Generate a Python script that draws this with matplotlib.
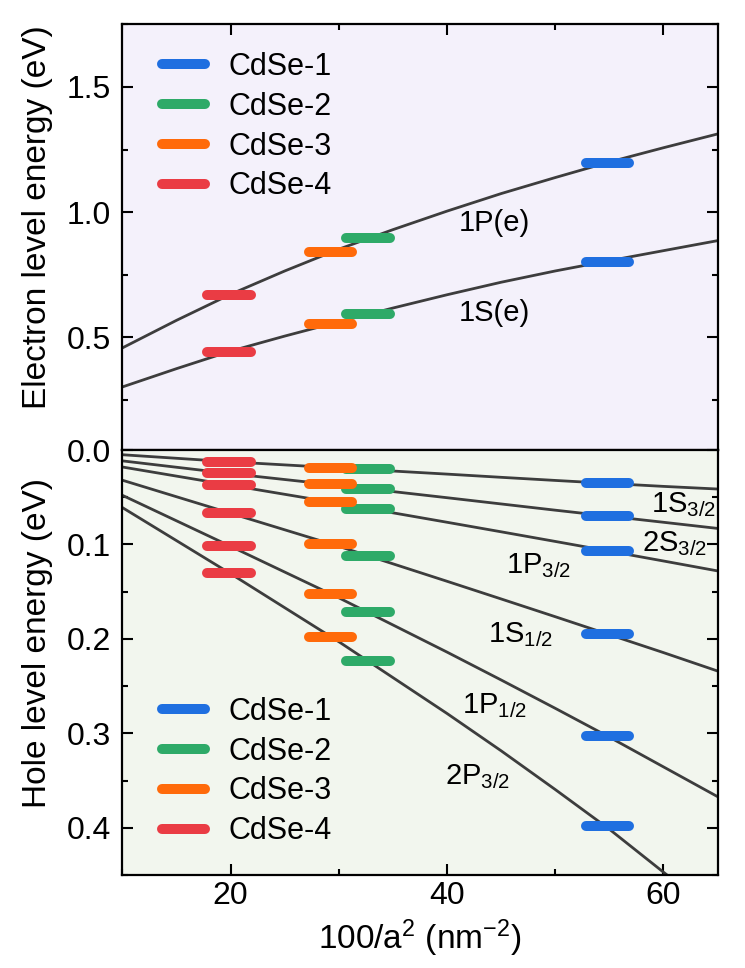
import numpy as np
import matplotlib
matplotlib.use('Agg')
import matplotlib.pyplot as plt
from matplotlib.ticker import MultipleLocator, FormatStrFormatter
from matplotlib.lines import Line2D

plt.rcParams['font.family'] = ['Liberation Sans', 'DejaVu Sans']
plt.rcParams['mathtext.default'] = 'regular'

# quantum dots: x position is 100/a^2 (nm^-2)
dots = ['CdSe-1', 'CdSe-2', 'CdSe-3', 'CdSe-4']
dot_x = [54.8, 32.7, 29.25, 19.85]
dot_colors = ['#1f6fe0', '#2eaa68', '#ff6a0a', '#ea3c44']

# electron levels (eV) for each dot
e_1P = [1.197, 0.898, 0.840, 0.669]
e_1S = [0.802, 0.593, 0.553, 0.442]

# hole levels (eV) per dot, order: 1S3/2, 2S3/2, 1P3/2, 1S1/2, 1P1/2, 2P3/2
h_levels = {
    'CdSe-1': [0.0353, 0.0699, 0.107, 0.1952, 0.303, 0.398],
    'CdSe-2': [0.0204, 0.0413, 0.0625, 0.112, 0.172, 0.2232],
    'CdSe-3': [0.0187, 0.0363, 0.0551, 0.0999, 0.1525, 0.1978],
    'CdSe-4': [0.0124, 0.0247, 0.0371, 0.0664, 0.1014, 0.130],
}

# calculated curves
xe = [10, 15, 20, 25, 30, 35, 40, 45, 50, 55, 60, 65]
curve_1P = [0.458, 0.568, 0.672, 0.765, 0.852, 0.930, 1.004, 1.074, 1.138, 1.200, 1.257, 1.312]
curve_1S = [0.302, 0.375, 0.445, 0.505, 0.562, 0.617, 0.670, 0.720, 0.765, 0.806, 0.846, 0.886]

xh = [10, 20, 30, 40, 45, 50, 55, 60, 65]
curve_1S32 = [0.005, 0.0125, 0.019, 0.0255, 0.0289, 0.0322, 0.0354, 0.0385, 0.0413]
curve_2S32 = [0.0115, 0.025, 0.0375, 0.0505, 0.0571, 0.0637, 0.0701, 0.0765, 0.083]
curve_1P32 = [0.018, 0.0373, 0.0565, 0.0765, 0.0866, 0.0968, 0.1071, 0.1175, 0.128]
curve_1S12 = [0.032, 0.067, 0.102, 0.139, 0.1577, 0.1765, 0.1955, 0.2145, 0.234]
curve_1P12 = [0.048, 0.102, 0.1565, 0.214, 0.2435, 0.2735, 0.304, 0.3355, 0.367]
curve_2P32 = [0.061, 0.131, 0.203, 0.279, 0.3185, 0.3595, 0.4015, 0.447, 0.492]

line_color = '#3d3d3d'
bar_half = 2.0
bar_lw = 7.2

fig = plt.figure(figsize=(7.45, 9.68), dpi=100)
ax_e = fig.add_axes([0.1644, 0.5351, 0.7987, 0.4398])
ax_h = fig.add_axes([0.1644, 0.0961, 0.7987, 0.4390])
ax_e.set_facecolor('#f4f1fb')
ax_h.set_facecolor('#f2f6ee')

# electron panel
for yy in (curve_1P, curve_1S):
    ax_e.plot(xe, yy, color=line_color, lw=2.0, zorder=2)
for i, name in enumerate(dots):
    for lev in (e_1P[i], e_1S[i]):
        ax_e.plot([dot_x[i] - bar_half, dot_x[i] + bar_half], [lev, lev],
                  color=dot_colors[i], lw=bar_lw, solid_capstyle='round', zorder=3)
ax_e.text(44.4, 0.956, '1P(e)', fontsize=21, ha='center', va='center')
ax_e.text(44.4, 0.596, '1S(e)', fontsize=21, ha='center', va='center')
ax_e.set_xlim(10, 65)
ax_e.set_ylim(0.05, 1.75)
ax_e.yaxis.set_major_locator(MultipleLocator(0.5))
ax_e.yaxis.set_minor_locator(MultipleLocator(0.25))

# hole panel
for yy in (curve_1S32, curve_2S32, curve_1P32, curve_1S12, curve_1P12, curve_2P32):
    ax_h.plot(xh, yy, color=line_color, lw=2.0, zorder=2)
for i, name in enumerate(dots):
    for lev in h_levels[name]:
        ax_h.plot([dot_x[i] - bar_half, dot_x[i] + bar_half], [lev, lev],
                  color=dot_colors[i], lw=bar_lw, solid_capstyle='round', zorder=3)
hole_labels = [('1S$_{3/2}$', 61.9, 0.0583), ('2S$_{3/2}$', 61.0, 0.0989),
               ('1P$_{3/2}$', 48.5, 0.122), ('1S$_{1/2}$', 46.8, 0.195),
               ('1P$_{1/2}$', 44.4, 0.271), ('2P$_{3/2}$', 42.8, 0.346)]
for txt, tx, ty in hole_labels:
    ax_h.text(tx, ty, txt, fontsize=21, ha='center', va='center')
ax_h.set_xlim(10, 65)
ax_h.set_ylim(0.45, 0.0)
ax_h.yaxis.set_major_locator(MultipleLocator(0.1))
ax_h.yaxis.set_minor_locator(MultipleLocator(0.05))
ax_h.yaxis.set_major_formatter(FormatStrFormatter('%.1f'))

for ax in (ax_e, ax_h):
    ax.xaxis.set_major_locator(MultipleLocator(20))
    ax.xaxis.set_minor_locator(MultipleLocator(10))
    ax.tick_params(which='both', direction='in', width=1.5, labelsize=23,
                   left=True, right=True)
    ax.tick_params(axis='y', which='both', pad=8)
    ax.tick_params(axis='x', which='both', pad=4)
    ax.tick_params(which='major', length=8)
    ax.tick_params(which='minor', length=4.5)
    for sp in ax.spines.values():
        sp.set_linewidth(1.6)
ax_e.tick_params(which='both', top=True, bottom=False, labelbottom=False)
ax_h.tick_params(which='both', top=False, bottom=True)

ax_h.set_xlabel('100/a$^2$ (nm$^{-2}$)', fontsize=24, labelpad=5)
fig.text(0.05, 0.776, 'Electron level energy (eV)', fontsize=24, rotation=90,
         ha='center', va='center')
fig.text(0.05, 0.336, 'Hole level energy (eV)', fontsize=24, rotation=90,
         ha='center', va='center')

handles = [Line2D([], [], color=c, lw=bar_lw, solid_capstyle='round') for c in dot_colors]
for ax, ypos in ((ax_e, 0.935), (ax_h, 0.419)):
    ax.legend(handles, dots, loc='upper left', bbox_to_anchor=(0.066, ypos),
              frameon=False, fontsize=22, handlelength=1.4, handletextpad=0.8,
              labelspacing=0.32, borderpad=0, borderaxespad=0)

fig.savefig('out.png', dpi=100)
